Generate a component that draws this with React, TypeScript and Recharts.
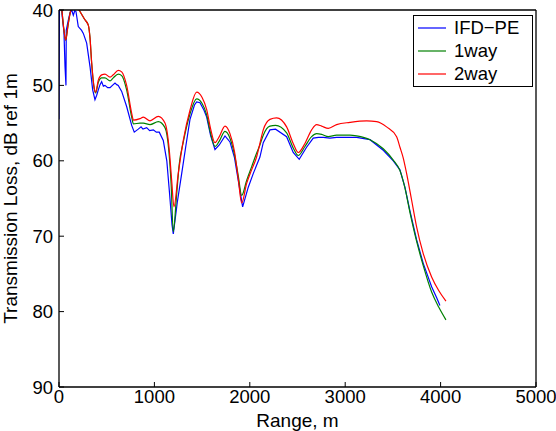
import React from 'react';
import { LineChart, Line, XAxis, YAxis, Legend, Label } from 'recharts';

const rangeTicks = [0, 1000, 2000, 3000, 4000, 5000];
const lossTicks = [40, 50, 60, 70, 80, 90];
const seriesNames = ['IFD−PE', '1way', '2way'];

// IFD-PE (blue)
const peRange = [0, 5, 20, 35, 52, 63, 73, 76, 95, 115, 133, 150, 165, 178, 202, 237, 255, 290, 325, 353, 377, 395, 412, 430, 447, 465, 482, 510, 535, 560, 587, 605, 621, 657, 709, 762, 789, 810, 831, 860, 880, 919, 950, 989, 1020, 1051, 1093, 1130, 1160, 1185, 1198, 1215, 1240, 1286, 1330, 1373, 1420, 1443, 1478, 1520, 1548, 1590, 1635, 1680, 1740, 1792, 1840, 1879, 1925, 1984, 2036, 2106, 2141, 2211, 2270, 2386, 2455, 2518, 2595, 2665, 2720, 2770, 2840, 2910, 3000, 3120, 3260, 3399, 3504, 3574, 3626, 3678, 3749, 3818, 3906, 3960, 3993];
const peLoss = [54.5, 39, 38.5, 41, 42.9, 47.5, 50, 42.7, 41.5, 40.4, 40, 40.7, 40.1, 40.2, 42.2, 42.7, 43.1, 44.4, 47.5, 50.6, 51.9, 51.3, 50.6, 49.9, 49.5, 50.1, 50, 50.3, 50.3, 50, 49.7, 49.9, 50, 50.8, 52.8, 55.3, 56.2, 56, 55.8, 55.5, 55.8, 55.6, 56, 55.9, 56.2, 56.2, 57.3, 60, 64.5, 68.5, 69.7, 68, 65.5, 61.7, 58, 54.5, 52.6, 52.2, 52.3, 53.3, 54.2, 56.7, 58.5, 57.9, 56.7, 57.5, 59.6, 62.6, 66.1, 63.5, 61.7, 59.5, 57.6, 55.9, 55.8, 56.8, 58.9, 59.8, 58.2, 57, 56.9, 56.9, 57, 56.9, 56.9, 56.9, 57.2, 58.6, 60, 61.2, 63.5, 66.6, 70.5, 73.6, 76.7, 78.2, 79.2];

// 1way (green)
const oneWayRange = [0, 30, 50, 70, 95, 125, 170, 220, 272, 307, 325, 342, 370, 384, 412, 447, 482, 535, 569, 621, 657, 709, 762, 780, 849, 884, 954, 1041, 1111, 1150, 1175, 1198, 1230, 1260, 1303, 1373, 1443, 1500, 1548, 1590, 1635, 1680, 1740, 1792, 1840, 1879, 1915, 1967, 2019, 2071, 2106, 2141, 2211, 2270, 2386, 2455, 2508, 2578, 2648, 2700, 2753, 2823, 2910, 3050, 3120, 3260, 3399, 3504, 3574, 3626, 3678, 3749, 3818, 3906, 3980, 4056];
const oneWayLoss = [37, 40, 42.5, 44, 42, 40, 39.3, 40.2, 41.3, 42, 43.7, 47, 50.5, 51, 49.6, 49, 49, 49.4, 49, 48.5, 48.7, 50.6, 54.2, 55.1, 55, 55, 55.2, 54.8, 55.6, 58.5, 63, 69.4, 65, 60.5, 57.5, 53.8, 51.8, 52.4, 53.9, 56.4, 58.1, 57.4, 56.1, 57, 59.2, 62, 64.6, 62.6, 60.8, 59, 57.9, 56.6, 55.4, 55.3, 56.3, 58.3, 59.3, 58.1, 56.8, 56.4, 56.5, 56.8, 56.6, 56.6, 56.7, 57.2, 58.4, 59.9, 61.3, 63.6, 66.8, 70.7, 73.9, 77.4, 79.4, 81.1];

// 2way (red)
const twoWayRange = [0, 30, 50, 70, 95, 125, 170, 220, 272, 307, 325, 342, 370, 384, 412, 447, 482, 535, 569, 621, 657, 709, 762, 780, 849, 884, 954, 1041, 1111, 1156, 1181, 1205, 1250, 1303, 1373, 1443, 1500, 1548, 1590, 1635, 1680, 1740, 1792, 1840, 1879, 1915, 1967, 2019, 2071, 2106, 2141, 2211, 2281, 2386, 2455, 2508, 2578, 2648, 2700, 2753, 2823, 2910, 3050, 3225, 3330, 3434, 3539, 3574, 3608, 3644, 3696, 3749, 3818, 3906, 3980, 4056];
const twoWayLoss = [37, 40, 42.5, 44, 42, 40, 39.3, 40.2, 41.3, 42, 43.7, 46.9, 50.4, 50.9, 49.3, 48.6, 48.5, 48.9, 48.6, 48, 48.2, 50, 53.7, 54.6, 54.4, 54.2, 54.7, 54.1, 55, 58.6, 62.6, 66.1, 61.7, 57.3, 53.3, 50.9, 51.6, 53.2, 55.8, 57.6, 56.8, 55.4, 56.4, 58.8, 62.4, 65.6, 63, 61.2, 59.5, 57.7, 55.9, 54.5, 54.3, 55.5, 57.7, 58.9, 57.7, 55.9, 55.2, 55.4, 55.7, 55.2, 54.9, 54.7, 54.8, 55.5, 56.8, 58.2, 59.6, 61.7, 65.2, 68.8, 72.3, 75.4, 77.2, 78.6];

const toPoints = (r: number[], v: number[]) => r.map((x, i) => ({ range: x, loss: v[i] }));

const font = '"Liberation Sans", Arial, sans-serif';
const tickStyle = { fill: '#000', fontSize: 18.5, fontFamily: font };
const axisLine = { stroke: '#000', strokeWidth: 1.3 };
const tickLine = { stroke: '#000', strokeWidth: 1 };

function LegendBox({ payload }: any) {
  const items = [...(payload || [])].sort((a: any, b: any) => seriesNames.indexOf(a.value) - seriesNames.indexOf(b.value));
  return (
    <div style={{ width: 118, height: 70, border: '1px solid #000', background: '#fff', fontFamily: font, fontSize: 18.5, color: '#000', lineHeight: '20px' }}>
      {items.map((p: any) => (
        <div key={p.value} style={{ height: 23, display: 'flex', alignItems: 'center' }}>
          <svg width={36} height={10} style={{ marginLeft: 4 }}>
            <line x1={0} x2={28} y1={5} y2={5} stroke={p.color} strokeWidth={1.2} />
          </svg>
          <span>{p.value}</span>
        </div>
      ))}
    </div>
  );
}

export default function App() {
  return (
    <div style={{ position: 'absolute', left: 0, top: 0, width: 556, height: 431, background: '#fff' }}>
      <LineChart width={556} height={431} margin={{ top: 9, right: 19, bottom: 0, left: 0 }}>
        <XAxis dataKey="range" type="number" domain={[0, 5000]} ticks={rangeTicks} interval={0} allowDataOverflow height={44}
          tick={tickStyle} tickSize={-5} tickMargin={8} axisLine={axisLine} tickLine={tickLine}>
          <Label value="Range, m" position="insideBottom" offset={4} style={{ fill: '#000', fontSize: 19, fontFamily: font }} />
        </XAxis>
        <XAxis xAxisId="top" dataKey="range" orientation="top" type="number" domain={[0, 5000]} ticks={rangeTicks} interval={0} allowDataOverflow height={1}
          tick={false} tickSize={-5} axisLine={axisLine} tickLine={tickLine} />
        <YAxis type="number" domain={[40, 90]} ticks={lossTicks} interval={0} reversed allowDataOverflow width={59}
          tick={tickStyle} tickSize={-5} tickMargin={11} axisLine={axisLine} tickLine={tickLine}>
          <Label value="Transmission Loss, dB ref 1m" angle={-90} position="insideLeft" offset={10} style={{ textAnchor: 'middle', fill: '#000', fontSize: 19, fontFamily: font }} />
        </YAxis>
        <YAxis yAxisId="right" orientation="right" type="number" domain={[40, 90]} ticks={lossTicks} interval={0} reversed allowDataOverflow width={1}
          tick={false} tickSize={-5} axisLine={axisLine} tickLine={tickLine} />
        <Legend content={<LegendBox />} layout="horizontal" align="center" verticalAlign="middle"
          wrapperStyle={{ position: 'absolute', left: 413, top: 15, width: 120 }} />
        <Line data={toPoints(peRange, peLoss)} dataKey="loss" name={seriesNames[0]} type="linear" stroke="#0000ff" strokeWidth={1.2} dot={false} isAnimationActive={false} />
        <Line data={toPoints(oneWayRange, oneWayLoss)} dataKey="loss" name={seriesNames[1]} type="monotone" stroke="#008000" strokeWidth={1.2} dot={false} isAnimationActive={false} />
        <Line data={toPoints(twoWayRange, twoWayLoss)} dataKey="loss" name={seriesNames[2]} xAxisId="top" yAxisId="right" type="monotone" stroke="#ff0000" strokeWidth={1.2} dot={false} isAnimationActive={false} />
      </LineChart>
    </div>
  );
}
